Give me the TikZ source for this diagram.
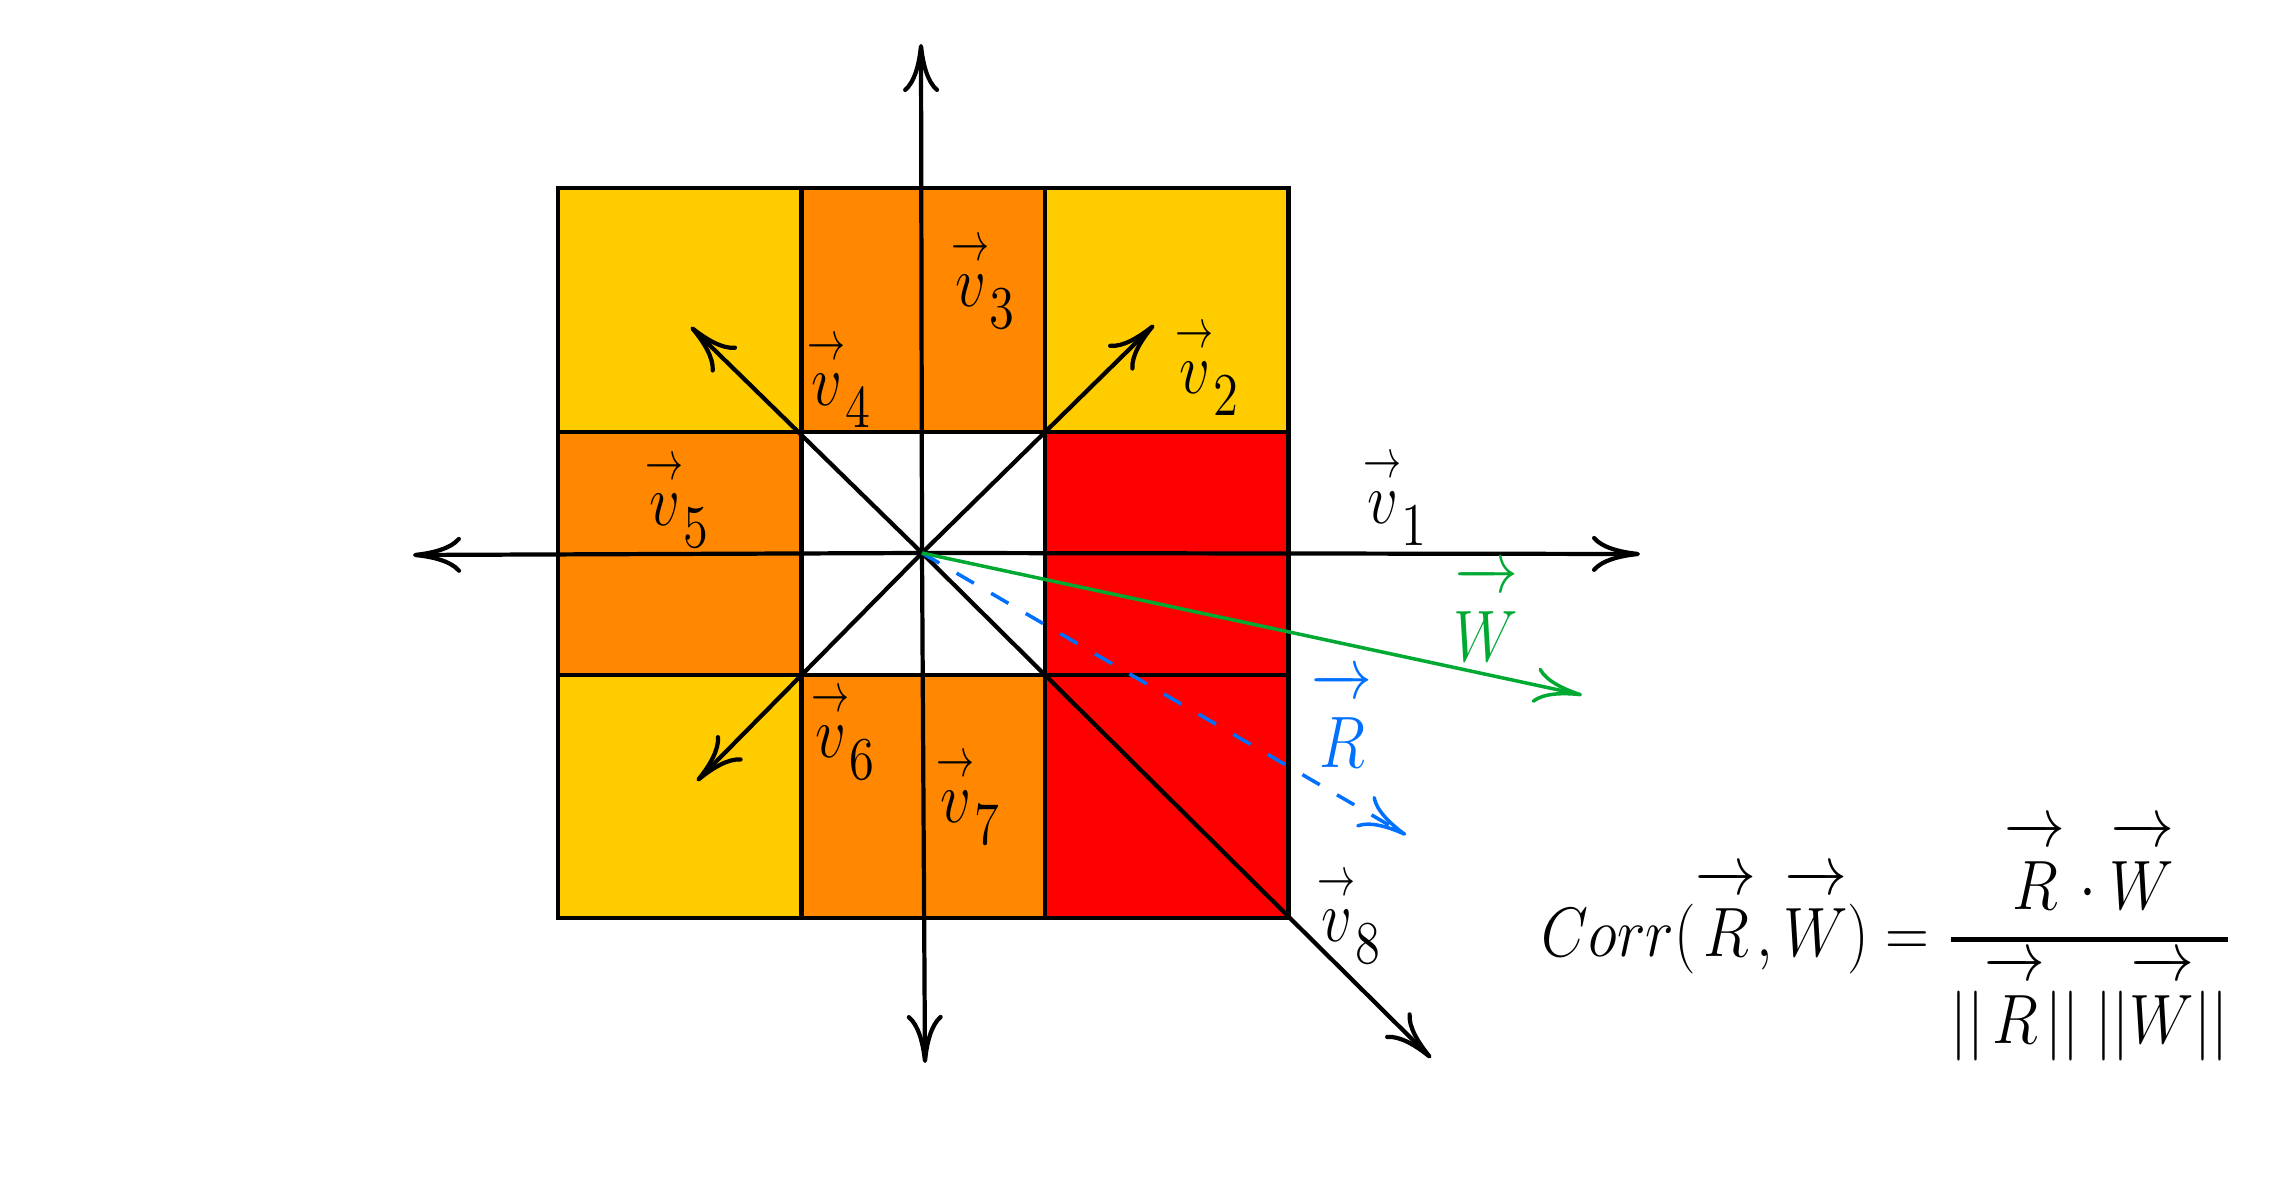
\documentclass[tikz,border=0pt]{standalone}
\usepackage{graphicx}
\usepackage{amsmath}
\usetikzlibrary{arrows.meta}
\definecolor{cyel}{RGB}{255,204,0}
\definecolor{corg}{RGB}{255,136,0}
\definecolor{cred}{RGB}{255,0,0}
\definecolor{cgrn}{RGB}{0,170,50}
\definecolor{cblu}{RGB}{0,112,255}
\newcommand\varr{\hbox{\scalebox{0.75}[0.9]{$\scriptstyle\rightarrow$}}}
\newcommand\vlab[1]{\scalebox{1}[1.2]{$\overset{\varr}{v}_{\lower2.6pt\hbox{$\scriptstyle #1$}}$}}
\newcommand\ovec[1]{\overrightarrow{#1\rule{0pt}{0.86em}}}
\begin{document}
\begin{tikzpicture}[x=0.01cm,y=-0.01cm,
  gridline/.style={line width=1.2pt},
  vecarrow/.style={line width=1.2pt,-{Computer Modern Rightarrow[length=4.8mm,width=3.6mm]}},
  lab/.style={inner sep=0pt,font=\fontsize{19}{23}\selectfont}]
\useasboundingbox[fill=white] (0,0) rectangle (2293,1192);
% cells
\fill[cyel] (558,188) rectangle (801.5,432);
\fill[corg] (801.5,188) rectangle (1045,432);
\fill[cyel] (1045,188) rectangle (1288.5,432);
\fill[corg] (558,432) rectangle (801.5,675);
\fill[cred] (1045,432) rectangle (1288.5,675);
\fill[cyel] (558,675) rectangle (801.5,918);
\fill[corg] (801.5,675) rectangle (1045,918);
\fill[cred] (1045,675) rectangle (1288.5,918);
% grid
\draw[gridline] (558,188) rectangle (1288.5,918);
\draw[gridline] (801.5,188) -- (801.5,918);
\draw[gridline] (1045,188) -- (1045,918);
\draw[gridline] (558,432) -- (1288.5,432);
\draw[gridline] (558,675) -- (1288.5,675);
% coordinates
\coordinate (O) at (922,553);
\coordinate (e1) at (1640,554);
\coordinate (e2) at (1154,325);
\coordinate (up) at (921,44);
\coordinate (e4) at (691,327);
\coordinate (left) at (413,555);
\coordinate (e6) at (697,781);
\coordinate (down) at (925,1063);
\coordinate (e8) at (1431,1058);
\coordinate (wt) at (1582,695);
\coordinate (rt) at (1406,835);
% vectors
\draw[vecarrow] (O) -- (e1);
\draw[vecarrow] (O) -- (e2);
\draw[vecarrow] (O) -- (up);
\draw[vecarrow] (O) -- (e4);
\draw[vecarrow] (O) -- (left);
\draw[vecarrow] (O) -- (e6);
\draw[vecarrow] (O) -- (down);
\draw[vecarrow] (O) -- (e8);
\draw[vecarrow,cblu,line width=1pt,dash pattern=on 0.2cm off 0.2cm] (O) -- (rt);
\draw[vecarrow,cgrn,line width=1pt] (O) -- (wt);
% labels
\node[lab] (l1) at (1396,498) {\vlab{1}};
\node[lab] (l2) at (1208,368) {\vlab{2}};
\node[lab] (l3) at (984,281) {\vlab{3}};
\node[lab] (l4) at (840,380) {\vlab{4}};
\node[lab] (l5) at (678,500) {\vlab{5}};
\node[lab] (l6) at (844,732) {\vlab{6}};
\node[lab] (l7) at (969,797) {\vlab{7}};
\node[lab] (l8) at (1350,916) {\vlab{8}};
\node[lab,text=cgrn] (lw) at (1486,614) {\scalebox{1}[1.2]{$\ovec{W}$}};
\node[lab,text=cblu] (lr) at (1342,720) {\scalebox{1}[1.2]{$\ovec{R}$}};
\node[inner sep=0pt,font=\fontsize{18}{22}\selectfont] (f) at (1887,941)
  {\scalebox{1}[1.15]{$\displaystyle Corr(\ovec{R},\ovec{W}) = \genfrac{}{}{1.1pt}{0}{\ovec{R}\cdot\ovec{W}}{||\ovec{R}||\;||\ovec{W}||}$}};
\end{tikzpicture}
\end{document}
